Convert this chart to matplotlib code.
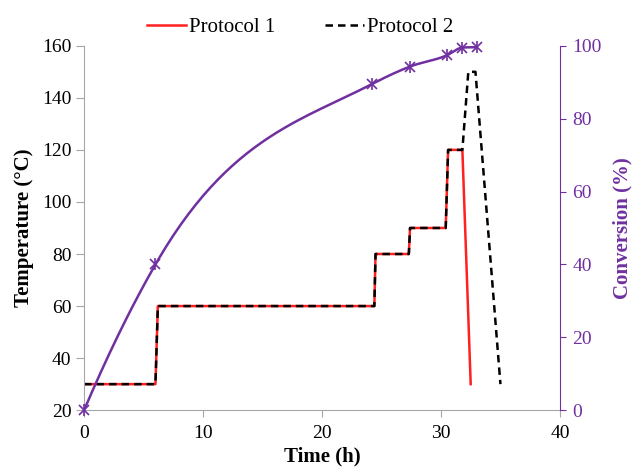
import numpy as np
import matplotlib.pyplot as plt

plt.rcParams['font.family'] = ['Liberation Serif', 'DejaVu Serif']

# temperature protocols (time in h, temperature in C)
p1_time = [0, 6.0, 6.2, 24.4, 24.5, 27.3, 27.4, 30.4, 30.6, 31.7, 31.8, 32.5]
p1_temp = [30, 30, 60, 60, 80, 80, 90, 90, 120, 120, 120, 30]
p2_time = [0, 6.0, 6.2, 24.4, 24.5, 27.3, 27.4, 30.4, 30.6, 31.7, 31.8, 32.3, 32.9, 35.0]
p2_temp = [30, 30, 60, 60, 80, 80, 90, 90, 120, 120, 120, 150, 150, 30]

# conversion samples
conv_time = [0, 6.0, 24.2, 27.4, 30.5, 31.8, 33.0]
conv_pct = [0, 40, 89.5, 94.3, 97.4, 99.5, 99.6]


def smooth(xs, ys, n=60):
    # cubic hermite with parabolic (bessel) tangents, clamped to stay monotone
    x = np.array(xs, float)
    y = np.array(ys, float)
    h = np.diff(x)
    d = np.diff(y) / h
    m = np.zeros_like(y)
    m[0] = d[0] + h[0] * (d[0] - d[1]) / (h[0] + h[1])
    m[-1] = max(0.0, d[-1] + h[-1] * (d[-1] - d[-2]) / (h[-1] + h[-2]))
    for i in range(1, len(x) - 1):
        if d[i - 1] * d[i] > 0:
            m[i] = (h[i] * d[i - 1] + h[i - 1] * d[i]) / (h[i - 1] + h[i])
            m[i] = min(m[i], 3 * min(d[i - 1], d[i]))
    outx, outy = [], []
    for i in range(len(x) - 1):
        t = np.linspace(0, 1, n)
        h00 = 2 * t ** 3 - 3 * t ** 2 + 1
        h10 = t ** 3 - 2 * t ** 2 + t
        h01 = -2 * t ** 3 + 3 * t ** 2
        h11 = t ** 3 - t ** 2
        outx.extend(x[i] + t * h[i])
        outy.extend(h00 * y[i] + h10 * h[i] * m[i] + h01 * y[i + 1] + h11 * h[i] * m[i + 1])
    return outx, outy


purple = '#7030A0'
grey = '#A6A6A6'

fig = plt.figure(figsize=(6.37, 4.72), dpi=100)
ax = fig.add_axes([0.132, 0.131, 0.747, 0.772])
ax2 = ax.twinx()

ax.plot(p1_time, p1_temp, color='#FF2020', lw=1.8, label='Protocol 1')
ax.plot(p2_time, p2_temp, color='black', lw=1.8, ls=(0, (3, 2)), label='Protocol 2')

sx, sy = smooth(conv_time, conv_pct)
ax2.plot(sx, sy, color=purple, lw=1.8)
ax2.plot(conv_time, conv_pct, ls='none', marker='x', ms=7, mew=1.2, color=purple, clip_on=False)
ax2.plot(conv_time, conv_pct, ls='none', marker='|', ms=8, mew=1.2, color=purple, clip_on=False)

ax.set_xlim(0, 40)
ax.set_ylim(20, 160)
ax2.set_ylim(0, 100)
ax.set_xticks(range(0, 41, 10))
ax.set_yticks(range(20, 161, 20))
ax2.set_yticks(range(0, 101, 20))

ax.spines['top'].set_visible(False)
ax2.spines['top'].set_visible(False)
ax.spines['left'].set_color(grey)
ax.spines['bottom'].set_color(grey)
ax.spines['right'].set_visible(False)
ax2.spines['left'].set_visible(False)
ax2.spines['bottom'].set_visible(False)
ax2.spines['right'].set_color(purple)

ax.tick_params(axis='both', colors=grey, labelcolor='black', labelsize=14, length=6, pad=3)
ax.tick_params(axis='x', pad=6, length=5)
ax2.tick_params(axis='y', colors=purple, labelcolor=purple, labelsize=14, length=4, pad=5)

ax.set_xlabel('Time (h)', fontsize=15, fontweight='bold', labelpad=3)
ax.set_ylabel('Temperature (°C)', fontsize=15, fontweight='bold', labelpad=6)
ax2.set_ylabel('Conversion (%)', fontsize=15, fontweight='bold', color=purple, labelpad=8)

ax.legend(loc='center', bbox_to_anchor=(0.454, 1.05), ncol=2, frameon=False,
          fontsize=15, handlelength=1.85, handletextpad=0.15, columnspacing=2.4)

fig.savefig('out.png', dpi=100)
